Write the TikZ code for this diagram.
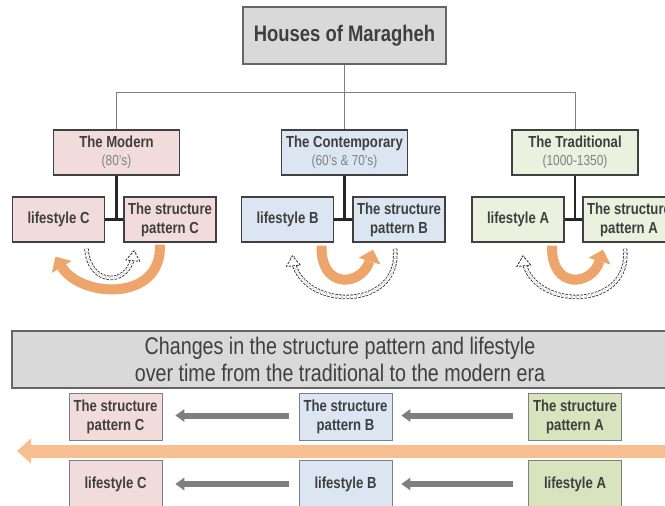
\documentclass[tikz,border=0pt]{standalone}
\usepackage{fontspec}
\setmainfont{Liberation Sans}[FakeStretch=0.82]
\usetikzlibrary{arrows.meta,decorations.markings,calc}
\definecolor{pinkf}{HTML}{F2DCDB}
\definecolor{bluef}{HTML}{DCE6F2}
\definecolor{greenf}{HTML}{EBF1DE}
\definecolor{greenb}{HTML}{D7E4BD}
\definecolor{grayf}{HTML}{D9D9D9}
\definecolor{bord}{HTML}{404040}
\definecolor{txt}{HTML}{3F3F3F}
\definecolor{subt}{HTML}{808080}
\definecolor{orng}{HTML}{EEA56B}
\definecolor{orngl}{HTML}{F6BE91}
\definecolor{garr}{HTML}{7F7F7F}
\begin{document}
\begin{tikzpicture}[x=1pt,y=-1pt,
  box/.style={draw=bord, line width=1.4pt, inner sep=0pt, align=center, text=txt,
    font=\bfseries\fontsize{16}{19}\selectfont},
  catbox/.style={box, minimum width=126pt, minimum height=45pt},
  smallbox/.style={box, minimum width=92pt, minimum height=45pt},
  botbox/.style={box, draw=garr, line width=0.9pt, minimum width=93pt, minimum height=47pt},
  thinlink/.style={draw=garr, line width=0.9pt},
  thicklink/.style={draw=black!85, line width=2.4pt},
  orngcurve/.style={draw=orng, line width=10pt, -{Triangle[length=12pt,width=23pt,line width=0pt]}},
  dashbody/.style={draw=black!80, line width=0.85pt, dash pattern=on 2.4pt off 1.4pt, double=white, double distance=2.8pt},
  dashhead/.style={decorate, decoration={markings, mark=at position 0.999 with {
      \draw[black!80, line width=0.85pt, dash pattern=on 2.4pt off 1.4pt, fill=white] (-9pt,-7pt) -- (1pt,0pt) -- (-9pt,7pt) -- cycle;}}},
  grayarrow/.style={draw=garr, line width=6pt, -{Triangle[length=9pt,width=13pt,line width=0pt]}},
  bigarrow/.style={draw=orngl, line width=13pt, -{Triangle[length=14pt,width=25pt,line width=0pt]}},
  subtxt/.style={}
]
\useasboundingbox (0,0) rectangle (665,506);
\clip (0,0) rectangle (665,506);

% title
\node[box, fill=grayf, draw=bord!80, line width=1.2pt, minimum width=203pt, minimum height=57pt,
  font=\bfseries\fontsize{22.5}{25}\selectfont] (title) at (344.5,35.5) {Houses of Maragheh};
\coordinate (hub) at (344.5,92);

% categories
\node[catbox, fill=pinkf] (mod) at (116.5,152.5) {The Modern\\[-1pt]{\mdseries\color{subt}\fontsize{14.5}{16}\selectfont (80's)}};
\node[catbox, fill=bluef] (con) at (344.5,152.5) {The Contemporary\\[-1pt]{\mdseries\color{subt}\fontsize{14.5}{16}\selectfont (60's \& 70's)}};
\node[catbox, fill=greenf] (tra) at (575,152.5) {The Traditional\\[-1pt]{\mdseries\color{subt}\fontsize{14.5}{16}\selectfont (1000-1350)}};

\draw[thinlink] (title.south) -- (hub);
\draw[thinlink] (hub) -| (mod.north);
\draw[thinlink] (hub) -- (con.north);
\draw[thinlink] (hub) -| (tra.north);

% sub boxes
\node[smallbox, fill=pinkf] (lc) at (58.5,219.5) {lifestyle C};
\node[smallbox, fill=pinkf] (sc) at (170,219.5) {The structure\\pattern C};
\node[smallbox, fill=bluef] (lb) at (287.5,219.5) {lifestyle B};
\node[smallbox, fill=bluef] (sb) at (399,219.5) {The structure\\pattern B};
\node[smallbox, fill=greenf] (la) at (518,219.5) {lifestyle A};
\node[smallbox, fill=greenf] (sa) at (629,219.5) {The structure\\pattern A};

\draw[thicklink] (mod.south) -- (mod.south |- lc.east);
\draw[thicklink] (lc.east) -- (sc.west);
\draw[thicklink] (con.south) -- (con.south |- lb.east);
\draw[thicklink] (lb.east) -- (sb.west);
\draw[thicklink] (tra.south) -- (tra.south |- la.east);
\draw[thicklink] (la.east) -- (sa.west);

% modern cycle
\draw[orngcurve] ($(sc.south)+(-10,2)$) .. controls ($(sc.south)+(-8,60)$) and ($(lc.south)+(22,55)$) .. ($(lc.south)+(-3,14)$);
\draw[dashbody] ($(lc.south)+(28,6)$) .. controls ($(lc.south)+(30,43)$) and ($(sc.south)+(-40,46)$) .. ($(sc.south)+(-36,9)$);
\path[dashhead] ($(lc.south)+(28,6)$) .. controls ($(lc.south)+(30,43)$) and ($(sc.south)+(-40,46)$) .. ($(sc.south)+(-36,9)$);

% contemporary cycle
\draw[dashbody] ($(sb.south)+(-4,6)$) .. controls ($(sb.south)+(3,70)$) and ($(lb.south)+(10,68)$) .. ($(lb.south)+(5,14)$);
\path[dashhead] ($(sb.south)+(-4,6)$) .. controls ($(sb.south)+(3,70)$) and ($(lb.south)+(10,68)$) .. ($(lb.south)+(5,14)$);
\draw[orngcurve] ($(lb.south)+(34,3)$) .. controls ($(lb.south)+(33,48)$) and ($(sb.south)+(-37,43)$) .. ($(sb.south)+(-26,7)$);

% traditional cycle
\draw[dashbody] ($(sa.south)+(-4,6)$) .. controls ($(sa.south)+(3,70)$) and ($(la.south)+(10,68)$) .. ($(la.south)+(5,14)$);
\path[dashhead] ($(sa.south)+(-4,6)$) .. controls ($(sa.south)+(3,70)$) and ($(la.south)+(10,68)$) .. ($(la.south)+(5,14)$);
\draw[orngcurve] ($(la.south)+(34,3)$) .. controls ($(la.south)+(33,48)$) and ($(sa.south)+(-37,43)$) .. ($(sa.south)+(-26,7)$);

% bottom section
\node[box, fill=grayf, draw=bord!80, line width=1.2pt, minimum width=656pt, minimum height=57pt,
  font=\mdseries\fontsize{24}{27}\selectfont] (banner) at (340,359.5)
  {Changes in the structure pattern and lifestyle\\over time from the traditional to the modern era};

\node[botbox, fill=pinkf] (bsc) at (115.5,416.5) {The structure\\pattern C};
\node[botbox, fill=bluef] (bsb) at (345.5,416.5) {The structure\\pattern B};
\node[botbox, fill=greenb] (bsa) at (575,416.5) {The structure\\pattern A};
\node[botbox, fill=pinkf, minimum height=48pt] (blc) at (115.5,484) {lifestyle C};
\node[botbox, fill=bluef, minimum height=48pt] (blb) at (345.5,484) {lifestyle B};
\node[botbox, fill=greenb, minimum height=48pt] (bla) at (575,484) {lifestyle A};

\draw[grayarrow] ([xshift=-10pt,yshift=1pt]bsb.west) -- ([xshift=13pt,yshift=1pt]bsc.east);
\draw[grayarrow] ([xshift=-15pt,yshift=1pt]bsa.west) -- ([xshift=9pt,yshift=1pt]bsb.east);
\draw[grayarrow] ([xshift=-10pt]blb.west) -- ([xshift=13pt]blc.east);
\draw[grayarrow] ([xshift=-15pt]bla.west) -- ([xshift=9pt]blb.east);

\coordinate (oe) at (672,451);
\coordinate (os) at (17,451);
\draw[bigarrow] (oe) -- (os);
\end{tikzpicture}
\end{document}
